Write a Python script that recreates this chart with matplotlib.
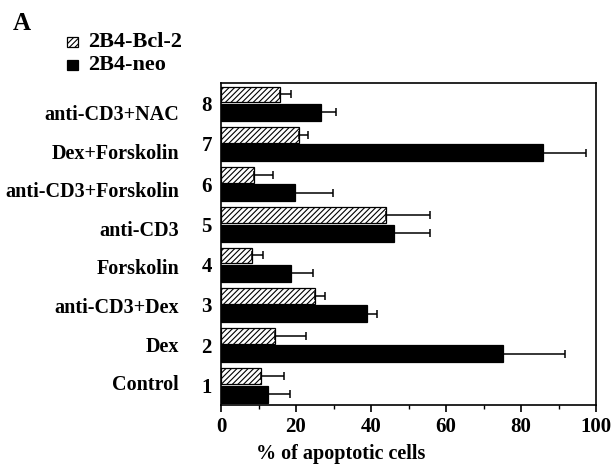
import matplotlib
matplotlib.use("Agg")
import matplotlib.pyplot as plt
import numpy as np

# ---- data ----
groups = [1, 2, 3, 4, 5, 6, 7, 8]
names = ["Control", "Dex", "anti-CD3+Dex", "Forskolin", "anti-CD3",
         "anti-CD3+Forskolin", "Dex+Forskolin", "anti-CD3+NAC"]
bcl2 = [10.7, 14.5, 25.1, 8.2, 44.0, 8.9, 20.7, 15.7]
bcl2_err = [6.2, 8.2, 2.6, 3.1, 11.6, 4.9, 2.4, 3.0]
neo = [12.4, 75.3, 38.8, 18.7, 46.0, 19.8, 85.8, 26.7]
neo_err = [6.1, 16.3, 2.8, 5.9, 9.6, 10.0, 11.5, 4.0]
xticks = [0, 20, 40, 60, 80, 100]

W, H = 611, 466
fig = plt.figure(figsize=(W / 100, H / 100), dpi=100)
FONT = "Liberation Serif"
plt.rcParams["font.family"] = FONT
plt.rcParams["hatch.linewidth"] = 0.8

L, R, T, B = 221, 596, 83, 405
ax = fig.add_axes([L / W, 1 - B / H, (R - L) / W, (B - T) / H])

y = np.array(groups, dtype=float)
ekw = dict(ecolor="black", elinewidth=1.1, capsize=3, capthick=1.1)
ax.barh(y + 0.02, bcl2, height=0.39, align="edge", color="white",
        edgecolor="black", hatch="//////", linewidth=0.9,
        xerr=[np.zeros(len(bcl2)), bcl2_err], error_kw=ekw, label="2B4-Bcl-2")
ax.barh(y - 0.44, neo, height=0.42, align="edge", color="black",
        edgecolor="black", linewidth=0.9,
        xerr=[np.zeros(len(neo)), neo_err], error_kw=ekw, label="2B4-neo")

ax.set_xlim(0, 100)
ax.set_ylim(0.5, 8.5)
ax.set_yticks([])
ax.set_xticks(xticks)
ax.set_xticklabels([str(v) for v in xticks], fontsize=15, fontweight="bold",
                   family=FONT)
ax.set_xticks(np.arange(10, 100, 20), minor=True)
ax.tick_params(axis="x", which="major", direction="out", length=5, width=1.2,
               pad=4)
ax.tick_params(axis="x", which="minor", direction="out", length=3, width=1.0)
for s in ax.spines.values():
    s.set_linewidth(1.2)

def px(xp, yp):
    return xp / W, 1 - yp / H

# group numbers
for i, g in enumerate(groups):
    yc = T + (8.5 - g) * (B - T) / 8.0 + 3
    fig.text(*px(212, yc), str(g), ha="right", va="center", fontsize=15,
             fontweight="bold", family=FONT)

# group names
for i, (g, n) in enumerate(zip(groups, names)):
    yc = 115 + (8 - g) * 38.6
    fig.text(*px(179, yc), n, ha="right", va="center", fontsize=14.5,
             fontweight="bold", family=FONT)

# x label
fig.text(*px(341, 454), "% of apoptotic cells", ha="center", va="center",
         fontsize=14.5, fontweight="bold", family=FONT)

# panel letter
fig.text(*px(13, 24), "A", ha="left", va="center", fontsize=18,
         fontweight="bold", family=FONT)

# legend
from matplotlib.patches import Rectangle
sq = 10.5
for (yc, lab, fc, h) in [(42, "2B4-Bcl-2", "white", "//////"),
                         (65, "2B4-neo", "black", None)]:
    x0, y0 = px(67, yc + sq / 2)
    fig.patches.append(Rectangle((x0, y0), sq / W, sq / H,
                                 transform=fig.transFigure, facecolor=fc,
                                 edgecolor="black", hatch=h, linewidth=0.9))
    fig.text(*px(88, yc), lab, ha="left", va="center", fontsize=16,
             fontweight="bold", family=FONT)

fig.savefig("out.png", dpi=100)
